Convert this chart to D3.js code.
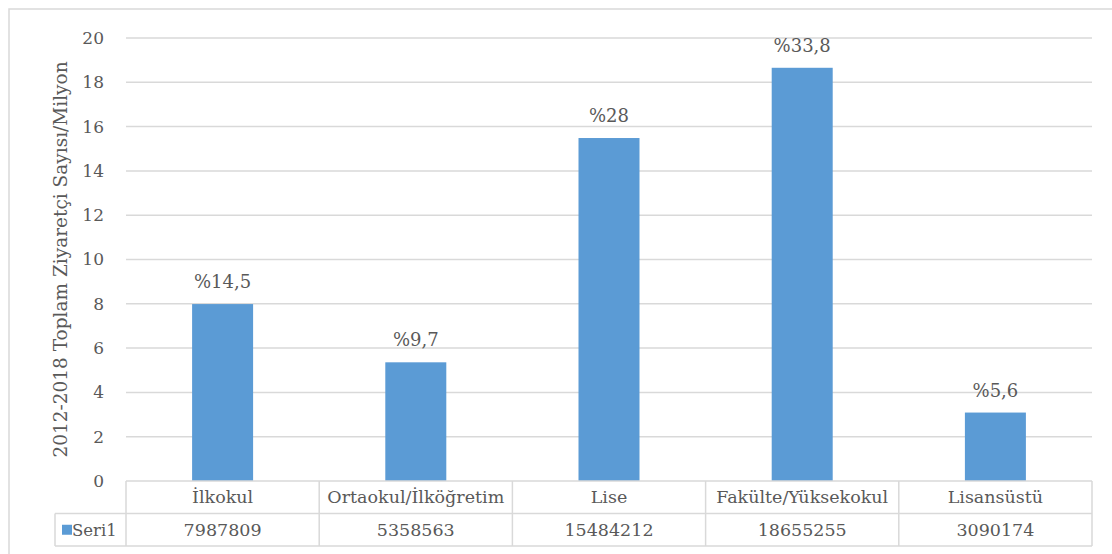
<!DOCTYPE html>
<html><head><meta charset="utf-8">
<script src="https://cdn.jsdelivr.net/npm/d3@7"></script>
<style>
html,body{margin:0;padding:0;background:#fff;}
svg{display:block;}
svg text{font-family:"DejaVu Serif",serif !important;fill:#595959;}
</style></head>
<body><svg id="c" width="1112" height="554"></svg>
<script>
const categories = ["İlkokul","Ortaokul/İlköğretim","Lise","Fakülte/Yüksekokul","Lisansüstü"];
const values = [7987809,5358563,15484212,18655255,3090174];
const percentLabels = ["%14,5","%9,7","%28","%33,8","%5,6"];
const yTicks = [0,2,4,6,8,10,12,14,16,18,20];
const seriesName = "Seri1";
const yTitle = "2012-2018 Toplam Ziyaretçi Sayısı/Milyon";

const FS = 17.5;
const svg = d3.select("#c");
const grid = "#d9d9d9";
const pL = 126, pR = 1092, pT = 38, pB = 481;
const rowH = 32.5;

// outer frame
svg.append("rect").attr("x",9).attr("y",9).attr("width",1110).attr("height",560)
  .attr("fill","none").attr("stroke",grid).attr("stroke-width",1.5);

const x = d3.scaleBand().domain(categories).range([pL,pR]).paddingInner(0).paddingOuter(0);
const y = d3.scaleLinear().domain([0,20]).range([pB,pT]);

// gridlines
svg.append("g").selectAll("line").data(yTicks.filter(d=>d>0)).join("line")
  .attr("x1",pL).attr("x2",pR).attr("y1",d=>y(d)).attr("y2",d=>y(d))
  .attr("stroke",grid).attr("stroke-width",1.5);

// y axis labels
const yAxis = d3.axisLeft(y).tickValues(yTicks).tickSize(0).tickPadding(0).tickFormat(d3.format("d"));
const ga = svg.append("g").attr("transform",`translate(104,0)`).call(yAxis)
  .attr("font-family","DejaVu Serif").attr("font-size",17);
ga.select(".domain").remove();
ga.selectAll("text").attr("fill","#595959");

// y title
svg.append("text").attr("transform",`translate(67,${(pT+pB)/2}) rotate(-90)`)
  .attr("text-anchor","middle").attr("font-size",18.5).text(yTitle);

// bars
const bw = 61;
svg.append("g").selectAll("rect").data(values).join("rect")
  .attr("x",(d,i)=>x(categories[i])+x.bandwidth()/2-bw/2)
  .attr("width",bw)
  .attr("y",d=>y(d/1e6))
  .attr("height",d=>y(0)-y(d/1e6))
  .attr("fill","#5b9bd5");

// data labels
svg.append("g").selectAll("text").data(values).join("text")
  .attr("x",(d,i)=>x(categories[i])+x.bandwidth()/2)
  .attr("y",d=>y(d/1e6)-16)
  .attr("text-anchor","middle").attr("font-size",18)
  .text((d,i)=>percentLabels[i]);

// data table
const tbl = svg.append("g");
const r1 = pB, r2 = pB+rowH, r3 = pB+2*rowH;
tbl.append("line").attr("x1",pL).attr("x2",pR).attr("y1",r1).attr("y2",r1).attr("stroke",grid).attr("stroke-width",1.5);
tbl.append("line").attr("x1",55).attr("x2",pR).attr("y1",r2).attr("y2",r2).attr("stroke",grid).attr("stroke-width",1.5);
tbl.append("line").attr("x1",55).attr("x2",pR).attr("y1",r3).attr("y2",r3).attr("stroke",grid).attr("stroke-width",1.5);
tbl.append("line").attr("x1",55).attr("x2",55).attr("y1",r2).attr("y2",r3).attr("stroke",grid).attr("stroke-width",1.5);
const bounds = categories.map(c=>x(c)).concat([pR]);
tbl.selectAll("line.v").data(bounds).join("line").attr("class","v")
  .attr("x1",d=>d).attr("x2",d=>d).attr("y1",r1).attr("y2",r3).attr("stroke",grid).attr("stroke-width",1.5);
tbl.selectAll("text.cat").data(categories).join("text").attr("class","cat")
  .attr("x",d=>x(d)+x.bandwidth()/2).attr("y",(r1+r2)/2).attr("dy","0.35em")
  .attr("text-anchor","middle").attr("font-size",FS).text(d=>d);
tbl.selectAll("text.val").data(values).join("text").attr("class","val")
  .attr("x",(d,i)=>x(categories[i])+x.bandwidth()/2).attr("y",(r2+r3)/2).attr("dy","0.35em")
  .attr("text-anchor","middle").attr("font-size",FS).text(d=>d);
tbl.append("rect").attr("x",62).attr("y",(r2+r3)/2-5).attr("width",10).attr("height",10).attr("fill","#5b9bd5");
tbl.append("text").attr("x",72).attr("y",(r2+r3)/2).attr("dy","0.35em").attr("font-size",16.5).text(seriesName);
</script></body></html>
